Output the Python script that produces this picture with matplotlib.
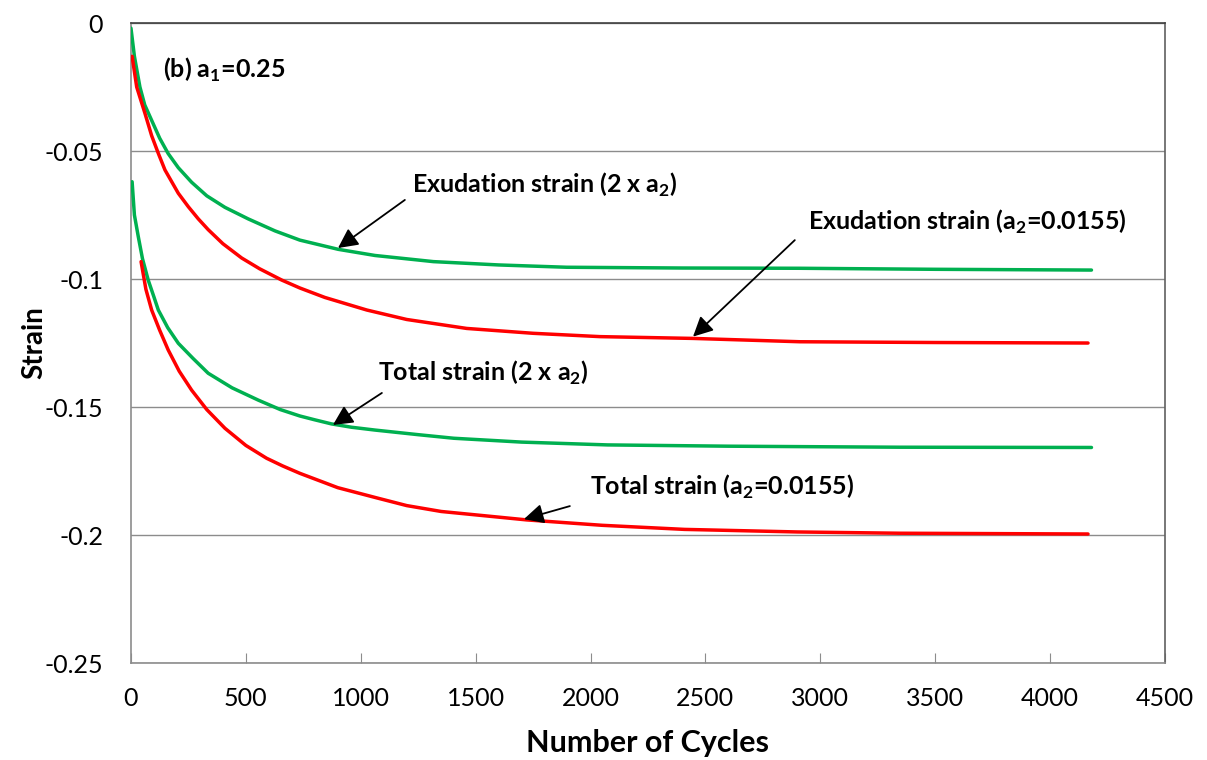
import matplotlib.pyplot as plt

plt.rcParams["font.family"] = ["Lato", "DejaVu Sans"]

# curve data (cycles, strain)
exu2_x = [0, 15, 39, 60, 90, 125, 162, 206, 264, 330, 409, 510, 627, 735, 902, 1062, 1316, 1600, 1896, 2400, 2911, 3500, 4180]
exu2_y = [-0.002, -0.013, -0.025, -0.032, -0.038, -0.045, -0.051, -0.0565, -0.0622, -0.0675, -0.072, -0.0765, -0.0812, -0.0848, -0.0884, -0.0908, -0.0932, -0.0945, -0.0954, -0.0957, -0.0958, -0.0962, -0.0965]

exu_x = [5, 25, 61, 90, 119, 148, 206, 250, 293, 336, 400, 482, 560, 656, 735, 844, 1026, 1200, 1461, 1750, 2041, 2446, 2911, 3500, 4165]
exu_y = [-0.013, -0.025, -0.0353, -0.044, -0.0509, -0.0574, -0.0665, -0.0718, -0.0765, -0.0807, -0.0862, -0.0918, -0.096, -0.1004, -0.1035, -0.1072, -0.1121, -0.1158, -0.1193, -0.1212, -0.1225, -0.1232, -0.1245, -0.1248, -0.125]

tot2_x = [5, 15, 32, 50, 75, 100, 119, 160, 206, 270, 336, 440, 554, 650, 735, 800, 873, 960, 1062, 1250, 1405, 1700, 2074, 2600, 3346, 4180]
tot2_y = [-0.062, -0.075, -0.0835, -0.092, -0.1004, -0.107, -0.1121, -0.119, -0.1251, -0.131, -0.1368, -0.1425, -0.1473, -0.151, -0.1535, -0.155, -0.1566, -0.1579, -0.159, -0.1608, -0.1622, -0.1637, -0.1648, -0.1653, -0.1657, -0.1658]

tot_x = [44, 65, 90, 125, 162, 210, 264, 330, 409, 500, 590, 660, 735, 900, 1070, 1200, 1350, 1723, 2050, 2409, 2900, 3346, 4165]
tot_y = [-0.0932, -0.104, -0.1121, -0.120, -0.1277, -0.136, -0.1434, -0.151, -0.1583, -0.165, -0.170, -0.173, -0.1759, -0.1815, -0.1855, -0.1885, -0.1908, -0.1941, -0.1962, -0.1978, -0.1988, -0.1993, -0.1996]

x_ticks = [0, 500, 1000, 1500, 2000, 2500, 3000, 3500, 4000, 4500]
y_ticks = [0, -0.05, -0.1, -0.15, -0.2, -0.25]
y_labels = ["0", "-0.05", "-0.1", "-0.15", "-0.2", "-0.25"]

green = "#00B050"
red = "#FF0000"

fig = plt.figure(figsize=(12.07, 7.6), dpi=100)
ax = fig.add_axes([0.1085, 0.1276, 0.8567, 0.8421])

for xs, ys, c in [(exu2_x, exu2_y, green), (exu_x, exu_y, red),
                  (tot2_x, tot2_y, green), (tot_x, tot_y, red)]:
    ax.plot(xs, ys, color=c, lw=2.5, solid_capstyle="round", solid_joinstyle="round", zorder=3)

ax.set_xlim(0, 4500)
ax.set_ylim(-0.25, 0)
ax.set_xticks(x_ticks)
ax.set_yticks(y_ticks)
ax.set_yticklabels(y_labels)
ax.yaxis.grid(True, color="#8c8c8c", lw=1)
ax.set_axisbelow(True)
for s in ax.spines.values():
    s.set_color("#8c8c8c")
    s.set_linewidth(1.2)
ax.spines["top"].set_color("#404040")
ax.spines["right"].set_color("#606060")
ax.tick_params(axis="x", direction="in", length=7, color="#8c8c8c", labelsize=18, pad=17)
ax.tick_params(axis="y", length=0, labelsize=18, pad=20)

ax.set_xlabel("Number of Cycles", fontsize=22, fontweight="bold", labelpad=14)
ax.set_ylabel("Strain", fontsize=20, fontweight="bold", labelpad=-2)

ax.text(139, -0.0184, r"(b) a$_\mathregular{1}$=0.25", fontsize=18, fontweight="bold", va="center")

arrow = dict(arrowstyle="-|>", color="black", lw=1.3, mutation_scale=30, shrinkA=0, shrinkB=0)
ax.annotate("", xy=(901, -0.0879), xytext=(1192, -0.0691), arrowprops=arrow)
ax.text(1802, -0.0633, r"Exudation strain (2 x a$_\mathregular{2}$)", fontsize=18, fontweight="bold", ha="center", va="center")
ax.annotate("", xy=(2446, -0.1225), xytext=(2889, -0.0848), arrowprops=arrow)
ax.text(3642, -0.0777, r"Exudation strain (a$_\mathregular{2}$=0.0155)", fontsize=18, fontweight="bold", ha="center", va="center")
ax.annotate("", xy=(879, -0.157), xytext=(1092, -0.1445), arrowprops=arrow)
ax.text(1532, -0.1367, r"Total strain (2 x a$_\mathregular{2}$)", fontsize=18, fontweight="bold", ha="center", va="center")
ax.annotate("", xy=(1710, -0.1938), xytext=(1910, -0.1887), arrowprops=arrow)
ax.text(2572, -0.1813, r"Total strain (a$_\mathregular{2}$=0.0155)", fontsize=18, fontweight="bold", ha="center", va="center")

fig.savefig("out.png", dpi=100)
